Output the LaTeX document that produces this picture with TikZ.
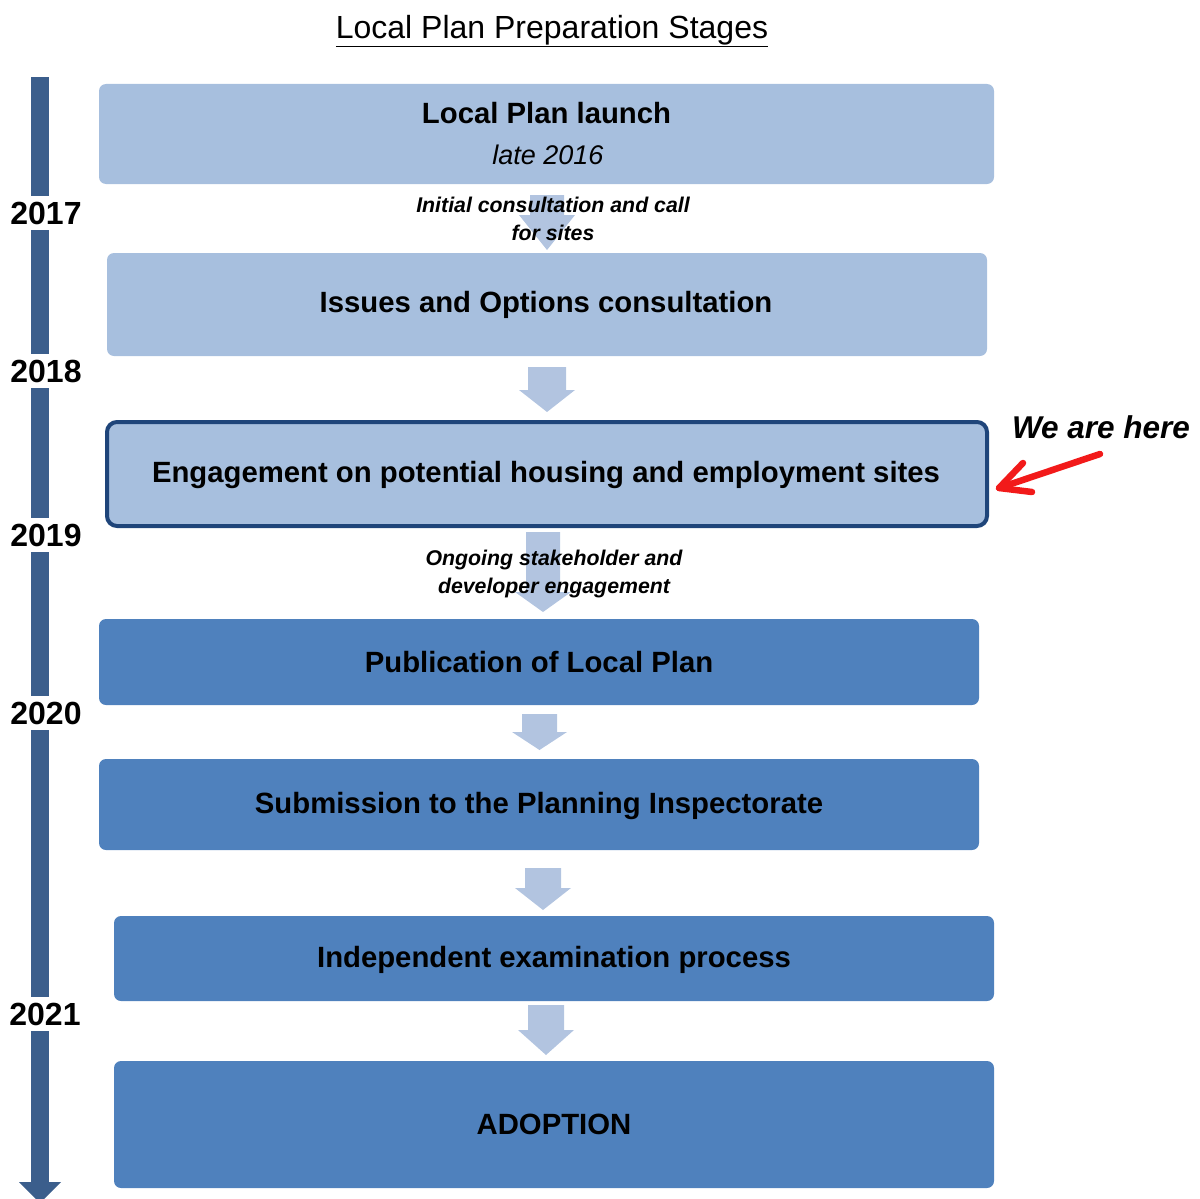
\documentclass[tikz,border=0pt]{standalone}
\usepackage{fontspec}
\setmainfont{Liberation Sans}
\usetikzlibrary{calc}
\definecolor{lightbox}{HTML}{A7BFDE}
\definecolor{midbox}{HTML}{4F81BD}
\definecolor{barblue}{HTML}{3B5E8C}
\definecolor{arrowfill}{HTML}{B2C4E0}
\definecolor{edgeblue}{HTML}{1F457A}
\definecolor{redarrow}{HTML}{F21A1A}
\newcommand{\dnarrow}[6]{% cx, ytop, headstart, tip, halfshaft, halfhead
  \fill[arrowfill] (#1-#5,#2) -- (#1+#5,#2) -- (#1+#5,#3) -- (#1+#6,#3) -- (#1,#4)
    -- (#1-#6,#3) -- (#1-#5,#3) -- cycle;}
\tikzset{
  lbox/.style={fill=lightbox, draw=none, rounded corners=7pt, inner sep=0pt},
  dbox/.style={fill=midbox, draw=none, rounded corners=7pt, inner sep=0pt},
  boxtext/.style={font=\fontsize{29.3}{35}\selectfont\bfseries, text=black, inner sep=0pt},
  labeltext/.style={font=\fontsize{21.3}{28}\selectfont\bfseries\itshape, align=center, text=black, inner sep=0pt},
  yeartext/.style={font=\fontsize{32}{36}\selectfont\bfseries, fill=white, inner xsep=1pt, inner ysep=6pt, text=black},
}
\begin{document}
\begin{tikzpicture}[x=1pt,y=-1pt]
\useasboundingbox (0,0) rectangle (1200,1199);
% title
\node[font=\fontsize{32}{38}\selectfont, inner sep=0pt] (title) at (552,31) {\underline{Local Plan Preparation Stages}};
% timeline
\fill[barblue] (31,77) rectangle (49,1183);
\fill[barblue] (19,1182) -- (61,1182) -- (40,1203) -- cycle;
\node[yeartext] (y2017) at (46,213) {2017};
\node[yeartext] (y2018) at (46,371) {2018};
\node[yeartext] (y2019) at (46,535) {2019};
\node[yeartext] (y2020) at (46,713) {2020};
\node[yeartext] (y2021) at (45,1014) {2021};
% boxes
\node[lbox, minimum width=895pt, minimum height=100pt] (b1) at (546.5,134) {};
\node[boxtext] (t1) at (546.5,113) {Local Plan launch};
\node[font=\fontsize{27}{30}\selectfont\itshape, inner sep=0pt] (t1b) at (548,155) {late 2016};
\node[lbox, minimum width=880pt, minimum height=103pt] (b2) at (547,304.5) {};
\node[boxtext] (t2) at (546,305) {Issues and Options consultation};
\node[lbox, draw=edgeblue, line width=4pt, rounded corners=10pt, minimum width=880pt, minimum height=104pt] (b3) at (547,474) {};
\node[boxtext] (t3) at (546,475) {Engagement on potential housing and employment sites};
\node[dbox, minimum width=880pt, minimum height=86pt] (b4) at (539,662) {};
\node[boxtext] (t4) at (539,662) {Publication of Local Plan};
\node[dbox, minimum width=880pt, minimum height=91pt] (b5) at (539,804.5) {};
\node[boxtext] (t5) at (539,806) {Submission to the Planning Inspectorate};
\node[dbox, minimum width=880pt, minimum height=85pt] (b6) at (554,958.5) {};
\node[boxtext] (t6) at (554,960) {Independent examination process};
\node[dbox, minimum width=880pt, minimum height=127pt] (b7) at (554,1124.5) {};
\node[boxtext] (t7) at (554,1124) {ADOPTION};
% block arrows
\dnarrow{547}{195}{215}{250}{17}{28}
\dnarrow{547}{367}{390}{412}{19}{28}
\dnarrow{543}{532}{592}{612}{17}{28}
\dnarrow{539.5}{714}{732}{750}{17.5}{27.5}
\dnarrow{543}{868}{888}{910}{18}{28}
\dnarrow{546}{1005}{1030}{1055}{18}{28}
% labels
\node[labeltext] (l1) at (553,219) {Initial consultation and call\\for sites};
\node[labeltext] (l2) at (554,574) {Ongoing stakeholder and\\developer engagement};
% we are here
\node[font=\fontsize{31.5}{36}\selectfont\bfseries\itshape, inner sep=0pt] (here) at (1101,427) {We are here};
\coordinate (rtail) at (1100,454);
\coordinate (rtip) at (999,488);
\draw[redarrow, line width=6.5pt, line cap=round, line join=round] (rtail) -- (rtip);
\draw[redarrow, line width=6.5pt, line cap=round, line join=round] ($(rtip)+(24,-25)$) -- (rtip) -- ($(rtip)+(33,4)$);
\end{tikzpicture}
\end{document}
